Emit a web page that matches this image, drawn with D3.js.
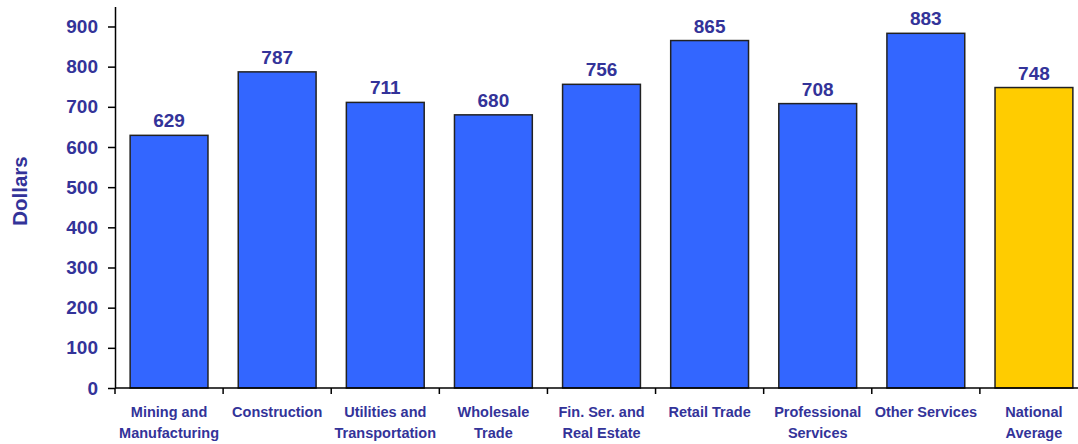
<!DOCTYPE html>
<html>
<head>
<meta charset="utf-8">
<script src="https://cdn.jsdelivr.net/npm/d3@7"></script>
<style>
  html, body { margin: 0; padding: 0; background: #fff; }
  svg { display: block; }
  text { font-family: Arial, "Liberation Sans", sans-serif; font-weight: bold; fill: #333399; }
</style>
</head>
<body>
<script>
const categories = [
  ["Mining and", "Manufacturing"],
  ["Construction"],
  ["Utilities and", "Transportation"],
  ["Wholesale", "Trade"],
  ["Fin. Ser. and", "Real Estate"],
  ["Retail Trade"],
  ["Professional", "Services"],
  ["Other Services"],
  ["National", "Average"]
];
const values = [629, 787, 711, 680, 756, 865, 708, 883, 748];
const barColors = ["#3366FF", "#3366FF", "#3366FF", "#3366FF", "#3366FF", "#3366FF", "#3366FF", "#3366FF", "#FFCC00"];
const yTicks = [0, 100, 200, 300, 400, 500, 600, 700, 800, 900];
const yTitle = "Dollars";

const W = 1078, H = 444;
const svg = d3.select("body").append("svg").attr("width", W).attr("height", H);

const keys = categories.map(c => c.join(" "));
const x = d3.scaleBand().domain(keys).range([115, 1088]).paddingInner(0.28).paddingOuter(0.14);
const y = d3.scaleLinear().domain([0, 950]).range([388, 6.4]);

// Bars
svg.selectAll("rect.bar").data(values).enter().append("rect")
  .attr("class", "bar")
  .attr("x", (d, i) => x(keys[i]))
  .attr("y", d => y(d))
  .attr("width", x.bandwidth())
  .attr("height", d => y(0) - y(d))
  .attr("fill", (d, i) => barColors[i])
  .attr("stroke", "#222")
  .attr("stroke-width", 1.5);

// Value labels
svg.selectAll("text.val").data(values).enter().append("text")
  .attr("class", "val")
  .attr("x", (d, i) => x(keys[i]) + x.bandwidth() / 2)
  .attr("y", d => y(d) - 8)
  .attr("text-anchor", "middle")
  .style("font-size", "19px")
  .text(d => d);

// Y axis
const yAxis = svg.append("g").attr("transform", "translate(115,0)")
  .call(d3.axisLeft(y).tickValues(yTicks).tickSize(7).tickPadding(10).tickSizeOuter(0));
yAxis.select(".domain").attr("stroke", "#000").attr("stroke-width", 1.5);
yAxis.selectAll(".tick line").attr("stroke", "#000").attr("stroke-width", 1.5);
yAxis.selectAll(".tick text").style("font-size", "19px").attr("fill", "#333399")
  .style("font-family", "Arial, 'Liberation Sans', sans-serif").style("font-weight", "bold");

// X axis line
svg.append("line")
  .attr("x1", 115).attr("x2", W)
  .attr("y1", y(0)).attr("y2", y(0))
  .attr("stroke", "#000").attr("stroke-width", 1.5);

// Boundary ticks
const bounds = d3.range(keys.length + 1).map(i => x.range()[0] + i * x.step());
svg.selectAll("line.xtick").data(bounds).enter().append("line")
  .attr("class", "xtick")
  .attr("x1", d => d).attr("x2", d => d)
  .attr("y1", y(0)).attr("y2", y(0) + 6)
  .attr("stroke", "#000").attr("stroke-width", 1.5);

// Category labels
const lab = svg.selectAll("text.cat").data(categories).enter().append("text")
  .attr("class", "cat")
  .attr("text-anchor", "middle")
  .style("font-size", "14.5px")
  .attr("x", (d, i) => x(keys[i]) + x.bandwidth() / 2)
  .attr("y", 417);
lab.selectAll("tspan").data(d => d).enter().append("tspan")
  .attr("x", function () { return d3.select(this.parentNode).attr("x"); })
  .attr("dy", (d, j) => j === 0 ? 0 : 20.5)
  .text(d => d);

// Y title
svg.append("text")
  .attr("transform", "translate(27,191) rotate(-90)")
  .attr("text-anchor", "middle")
  .style("font-size", "20.5px")
  .text(yTitle);
</script>
</body>
</html>
